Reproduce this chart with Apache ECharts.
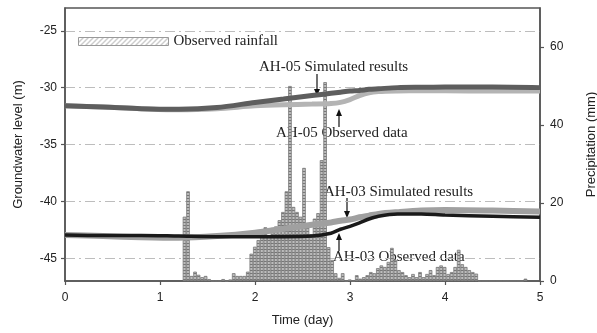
<!DOCTYPE html>
<html>
<head>
<meta charset="utf-8">
<script src="https://cdn.jsdelivr.net/npm/echarts@6/dist/echarts.min.js"></script>
<style>
  html, body { margin: 0; padding: 0; background: #fff; }
  #chart { width: 597px; height: 333px; }
</style>
</head>
<body>
<div id="chart"></div>
<script>
// Axis ticks
const levelTicks = [-45, -40, -35, -30, -25];
const rainTicks = [0, 20, 40, 60];

// Groundwater level curves (m), sampled in days
const lineTime = [0, 0.4, 0.8, 1.2, 1.6, 2.0, 2.3, 2.6, 2.8, 2.9, 3.0, 3.1, 3.2, 3.3, 3.5, 3.75, 4.0, 4.5, 5.0];
const ah05Sim = [-31.6, -31.7, -31.85, -31.9, -31.75, -31.3, -31.0, -30.7, -30.5, -30.4, -30.3, -30.25, -30.15, -30.1, -30.0, -29.97, -29.95, -29.95, -30.0];
const ah05Obs = [-31.6, -31.7, -31.85, -31.95, -31.85, -31.6, -31.5, -31.45, -31.4, -31.3, -31.05, -30.7, -30.45, -30.35, -30.3, -30.28, -30.28, -30.3, -30.3];
const ah03Sim = [-42.95, -43.05, -43.15, -43.2, -43.05, -42.75, -42.4, -42.05, -41.85, -41.7, -41.6, -41.4, -41.25, -41.1, -40.95, -40.8, -40.75, -40.8, -40.9];
const ah03Obs = [-42.95, -43.0, -43.0, -43.05, -43.1, -43.1, -43.1, -43.05, -42.8, -42.45, -42.2, -41.9, -41.55, -41.3, -41.1, -41.1, -41.2, -41.3, -41.4];

// Observed rainfall (mm), one value per recording step starting at rainStart (day)
const rainStart = 1.258;
const rainStep = 0.037;
const rainfall = [
  16.5, 23, 1.3, 2.4, 1.6, 1.0, 1.3, 0.5, 0, 0,
  0, 0.5, 0, 0.4, 2.0, 1.3, 1.3, 1.3, 2.4, 7,
  8.8, 10.5, 12.2, 13.8, 11.8, 13.6, 14, 15.6, 17.7, 23,
  50, 19, 17.7, 16.5, 29, 14, 12, 16, 17.4, 31,
  51, 8.7, 5.4, 2, 0.8, 2, 0, 0.4, 0, 1.5,
  0.6, 1, 1.5, 2.3, 2, 3.3, 4, 3.6, 4.9, 8.5,
  5.4, 2.8, 2.3, 1.5, 1, 1.8, 1, 2.3, 1, 1.8,
  2.8, 1.5, 3.6, 4, 3.6, 1.8, 2.3, 3.6, 8, 4.3,
  3.6, 2.8, 2.3, 1.9, 0, 0, 0, 0, 0, 0,
  0, 0, 0, 0, 0, 0, 0, 0.6
];

const pairs = (xs, ys) => xs.map((x, i) => [x, ys[i]]);
const rainData = rainfall.map((v, i) => [rainStart + i * rainStep, v]);

// Fill textures
function cellPattern() {
  const c = document.createElement('canvas');
  c.width = 1; c.height = 3;
  const g = c.getContext('2d');
  g.fillStyle = '#bdbdbd'; g.fillRect(0, 0, 1, 3);
  g.fillStyle = '#777777'; g.fillRect(0, 0, 1, 1);
  return c;
}
function hatchPattern() {
  const c = document.createElement('canvas');
  c.width = 5; c.height = 5;
  const g = c.getContext('2d');
  g.fillStyle = '#ffffff'; g.fillRect(0, 0, 5, 5);
  g.strokeStyle = '#9a9a9a'; g.lineWidth = 1;
  g.beginPath(); g.moveTo(0, 5); g.lineTo(5, 0); g.stroke();
  return c;
}

const serif = 'Liberation Serif';
const sans = 'Liberation Sans';
const axisColor = '#555';

function arrow(x, yFrom, yTip) {
  const dir = yTip > yFrom ? 1 : -1;
  return [
    { type: 'line', shape: { x1: x, y1: yFrom, x2: x, y2: yTip - dir * 5 }, style: { stroke: '#111', lineWidth: 1.2 } },
    { type: 'polygon', shape: { points: [[x - 3, yTip - dir * 7], [x + 3, yTip - dir * 7], [x, yTip]] }, style: { fill: '#111' } }
  ];
}
function label(text, x, y) {
  return { type: 'text', x: x, y: y, style: { text: text, font: '15px "' + serif + '"', fill: '#222', textVerticalAlign: 'middle' } };
}

const chart = echarts.init(document.getElementById('chart'), null, { renderer: 'canvas' });
chart.setOption({
  animation: false,
  backgroundColor: '#fff',
  grid: {
    left: 65, right: 57, top: 8, bottom: 52,
    containLabel: false, outerBoundsMode: 'none',
    show: true, borderColor: axisColor, borderWidth: 1.5, backgroundColor: 'transparent'
  },
  legend: {
    left: 73, top: 29,
    itemWidth: 90, itemHeight: 8, icon: 'rect',
    textStyle: { fontFamily: serif, fontSize: 15, color: '#222' },
    data: [{ name: 'Observed rainfall', itemStyle: { color: { image: hatchPattern(), repeat: 'repeat' }, borderColor: '#999', borderWidth: 1 } }]
  },
  xAxis: {
    type: 'value', min: 0, max: 5, interval: 1,
    name: 'Time (day)', nameLocation: 'middle', nameGap: 33,
    nameTextStyle: { fontFamily: sans, fontSize: 13, color: '#222' },
    axisLine: { show: true, lineStyle: { color: axisColor, width: 1.5 } },
    axisTick: { show: true, length: 4, lineStyle: { color: axisColor, width: 1.2 } },
    axisLabel: { fontFamily: sans, fontSize: 12, color: '#222', margin: 11 },
    splitLine: { show: false }
  },
  yAxis: [
    {
      type: 'value', min: -47, max: -23,
      name: 'Groundwater level (m)', nameLocation: 'middle', nameGap: 40,
      nameTextStyle: { fontFamily: sans, fontSize: 13, color: '#222' },
      axisLine: { show: true, lineStyle: { color: axisColor, width: 1.5 } },
      axisTick: { show: true, length: 4, customValues: levelTicks, lineStyle: { color: axisColor, width: 1.2 } },
      axisLabel: { fontFamily: sans, fontSize: 12, color: '#222', margin: 8, customValues: levelTicks },
      splitLine: { show: true, lineStyle: { color: '#bdbdbd', width: 1, type: [10, 4, 2, 4] } }
    },
    {
      type: 'value', min: 0, max: 70, position: 'right',
      name: 'Precipitation (mm)', nameLocation: 'middle', nameGap: 45, nameRotate: 90,
      nameTextStyle: { fontFamily: sans, fontSize: 13, color: '#222' },
      axisLine: { show: true, lineStyle: { color: axisColor, width: 1.5 } },
      axisTick: { show: true, length: 4, customValues: rainTicks, lineStyle: { color: axisColor, width: 1.2 } },
      axisLabel: { fontFamily: sans, fontSize: 12, color: '#222', margin: 10, customValues: rainTicks },
      splitLine: { show: false }
    }
  ],
  series: [
    {
      name: 'Observed rainfall', type: 'bar', yAxisIndex: 1, barWidth: 3.6,
      data: rainData,
      itemStyle: { color: { image: cellPattern(), repeat: 'repeat' }, borderColor: '#7a7a7a', borderWidth: 0.8 },
      z: 1
    },
    { name: 'AH-05 Observed data', type: 'line', smooth: 0.3, showSymbol: false, data: pairs(lineTime, ah05Obs), lineStyle: { color: '#b4b4b4', width: 5 }, z: 2 },
    { name: 'AH-05 Simulated results', type: 'line', smooth: 0.3, showSymbol: false, data: pairs(lineTime, ah05Sim), lineStyle: { color: '#5e5e5e', width: 5 }, z: 3 },
    { name: 'AH-03 Simulated results', type: 'line', smooth: 0.3, showSymbol: false, data: pairs(lineTime, ah03Sim), lineStyle: { color: '#a0a0a0', width: 6 }, z: 2 },
    { name: 'AH-03 Observed data', type: 'line', smooth: 0.3, showSymbol: false, data: pairs(lineTime, ah03Obs), lineStyle: { color: '#1a1a1a', width: 3.5 }, z: 3 }
  ],
  graphic: [
    label('AH-05 Simulated results', 259, 67),
    ...arrow(317, 74, 96),
    label('AH-05 Observed data', 276, 133),
    ...arrow(339, 127, 109),
    label('AH-03 Simulated results', 324, 192),
    ...arrow(347, 198, 218),
    label('AH-03 Observed data', 333, 257),
    ...arrow(339, 251, 233)
  ]
});
</script>
</body>
</html>
